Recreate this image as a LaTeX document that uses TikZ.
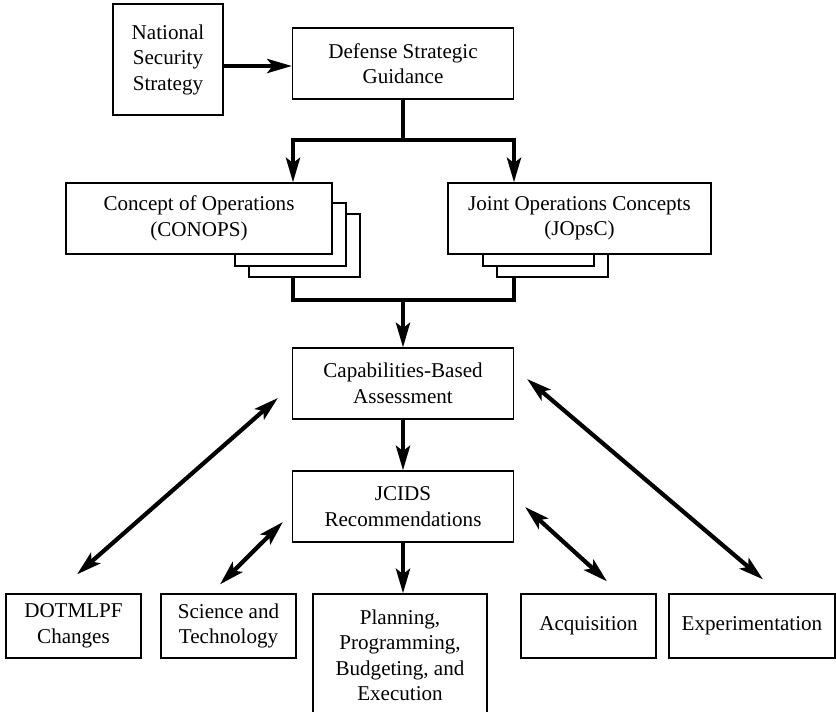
\documentclass[tikz,border=0pt]{standalone}
\usepackage{fontspec}
\setmainfont{Liberation Serif}
\usetikzlibrary{arrows.meta,calc}

\begin{document}
\begin{tikzpicture}[x=0.02cm,y=-0.02cm,>={Stealth[length=14pt,width=8pt,inset=3pt]},
    box/.style={draw,line width=0.7pt,fill=white,align=center,inner sep=0pt,
      font=\fontsize{12}{14.5}\selectfont},
    flow/.style={line width=2.4pt}]
  \useasboundingbox (0,0) rectangle (836,712);

  \node[box,minimum width=2.2cm,minimum height=2.22cm] (nss) at (168,59.5) {National\\Security\\Strategy};
  \node[box,minimum width=4.42cm,minimum height=1.42cm] (dsg) at (403,63.5) {Defense Strategic\\Guidance};

  \foreach \dx/\dy in {14/11,0/0}
    {
      \draw[line width=0.7pt,fill=white](235+\dx,203+\dy)rectangle++(111,63);
      \draw[line width=0.7pt,fill=white](483+\dx,203+\dy)rectangle++(111,63);
    }
  \node[box,minimum width=5.32cm,minimum height=1.42cm] (conops) at (199,218.5) {Concept of Operations\\(CONOPS)};
  \node[box,minimum width=5.26cm,minimum height=1.42cm] (jopsc) at (579.5,218.5) {Joint Operations Concepts\\(JOpsC)};

  \node[box,minimum width=4.42cm,minimum height=1.42cm] (cba) at (403,383.5) {Capabilities-Based\\Assessment};
  \node[box,minimum width=4.42cm,minimum height=1.42cm] (jcids) at (403,506.5) {JCIDS\\Recommendations};

  \node[box,minimum width=2.7cm,minimum height=1.28cm] (dotmlpf) at (73.5,626) {DOTMLPF\\Changes};
  \node[box,minimum width=2.7cm,minimum height=1.28cm] (scitech) at (228.5,626) {Science and\\Technology};
  \node[box,minimum width=3.48cm,minimum height=2.46cm] (ppbe) at (400,655.5) {Planning,\\Programming,\\Budgeting, and\\Execution};
  \node[box,minimum width=2.7cm,minimum height=1.28cm] (acq) at (588.5,626) {Acquisition};
  \node[box,minimum width=3.32cm,minimum height=1.28cm] (exper) at (752,626) {Experimentation};

  \coordinate (nssarrow) at ($(dsg.west)+(0,2.5)$);
  \coordinate (splitL) at (293,140);
  \coordinate (splitR) at (514,140);
  \coordinate (conopsend) at (293,277);
  \coordinate (jopscend) at (514,277);
  \coordinate (mergeL) at (293,300);
  \coordinate (mergeR) at (514,300);

  \draw[flow,->](nss.east |- nssarrow)--(nssarrow);
  \draw[flow](dsg.south)--(dsg.south |- splitL);
  \draw[flow,<->](splitL |- conops.north)--(splitL)--(splitR)--(splitR |- jopsc.north);
  \draw[flow](conopsend)--(mergeL)--(mergeR)--(jopscend);
  \draw[flow,->](cba.north |- mergeL)--(cba.north);
  \draw[flow,->](cba.south)--(jcids.north);
  \draw[flow,->](jcids.south)--(jcids.south |- ppbe.north);

  \draw[flow,<->]($(cba.west)+(-14,14.5)$)--($(dotmlpf.north)+(3.5,-19)$);
  \draw[flow,<->]($(jcids.west)+(-9,15.5)$)--($(scitech.north)+(-8.5,-9)$);
  \draw[flow,<->]($(jcids.east)+(11,0.5)$)--($(acq.north)+(18.5,-12)$);
  \draw[flow,<->]($(cba.east)+(13,-4.5)$)--($(exper.north)+(11,-14)$);
\end{tikzpicture}
\end{document}
